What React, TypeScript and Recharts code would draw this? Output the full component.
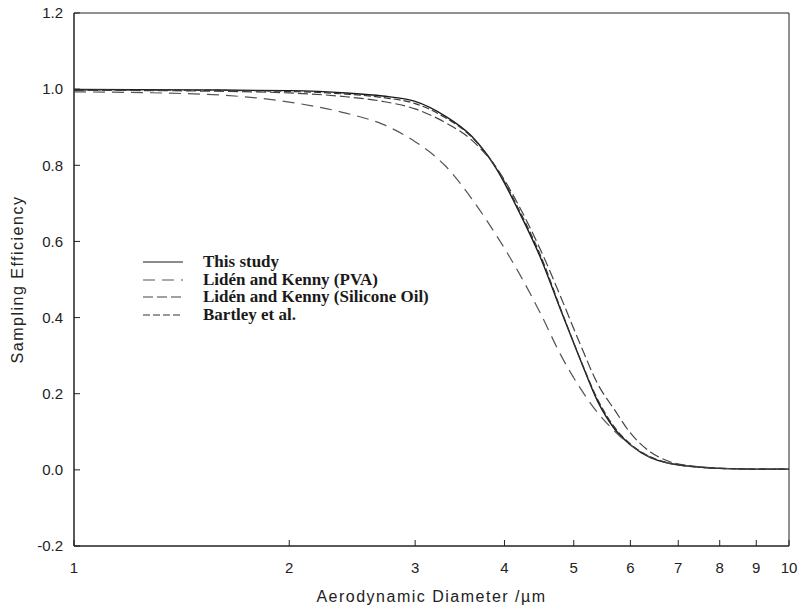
import React from "react";
import {
  LineChart,
  Line,
  XAxis,
  YAxis,
  Label,
  ReferenceArea,
} from "recharts";

// aerodynamic diameter (µm)
const diameters = [1, 1.5, 2, 2.4, 2.7, 3, 3.3, 3.6, 3.9, 4.2, 4.5, 4.8, 5.1, 5.4, 5.7, 6, 6.4, 6.8, 7.4, 8, 9, 10];

const thisStudy = [0.999, 0.998, 0.996, 0.99, 0.982, 0.968, 0.93, 0.876, 0.79, 0.675, 0.554, 0.417, 0.292, 0.18, 0.108, 0.066, 0.032, 0.017, 0.008, 0.004, 0.002, 0.002];
const lidenPva = [0.993, 0.987, 0.966, 0.937, 0.908, 0.862, 0.8, 0.712, 0.615, 0.514, 0.408, 0.3, 0.216, 0.15, 0.102, 0.065, 0.033, 0.017, 0.008, 0.004, 0.002, 0.002];
const lidenSilicone = [0.997, 0.995, 0.99, 0.98, 0.968, 0.948, 0.913, 0.866, 0.793, 0.69, 0.575, 0.452, 0.332, 0.226, 0.158, 0.097, 0.047, 0.022, 0.009, 0.004, 0.002, 0.002];
const bartley = [0.998, 0.997, 0.994, 0.987, 0.978, 0.962, 0.926, 0.874, 0.792, 0.68, 0.56, 0.42, 0.293, 0.185, 0.112, 0.068, 0.034, 0.018, 0.008, 0.004, 0.002, 0.002];

const xTicks = [1, 2, 3, 4, 5, 6, 7, 8, 9, 10];
const yTicks = [-0.2, 0, 0.2, 0.4, 0.6, 0.8, 1.0, 1.2];

const series = [
  { key: "study", name: "This study", dash: undefined, color: "#1a1a1a", width: 1.4 },
  { key: "pva", name: "Lidén and Kenny (PVA)", dash: "12 7", color: "#555", width: 1.2 },
  { key: "silicone", name: "Lidén and Kenny (Silicone Oil)", dash: "10 4", color: "#444", width: 1.2 },
  { key: "bartley", name: "Bartley et al.", dash: "7 3", color: "#333", width: 1.2 },
];

const data = diameters.map((d, i) => ({
  d,
  study: thisStudy[i],
  pva: lidenPva[i],
  silicone: lidenSilicone[i],
  bartley: bartley[i],
}));

const tickStyle = { fontFamily: "Liberation Sans, Arial, sans-serif", fontSize: 15, fill: "#222" };
const titleStyle = { fontFamily: "Liberation Sans, Arial, sans-serif", fontSize: 16, letterSpacing: 1.5, fill: "#222" };

// legend sits inside the plot, so draw it as an overlay instead of recharts' Legend
function LegendBox() {
  return (
    <div
      style={{
        position: "absolute",
        left: 142,
        top: 253,
        fontFamily: "Liberation Serif, Times New Roman, serif",
        fontWeight: "bold",
        fontSize: 17,
        color: "#1a1a1a",
      }}
    >
      {series.map((s) => (
        <div key={s.key} style={{ display: "flex", alignItems: "center", height: 17.7 }}>
          <svg width={42} height={10} style={{ marginRight: 19 }}>
            <line x1={1} y1={5} x2={41} y2={5} stroke={s.color} strokeWidth={1.2} strokeDasharray={s.dash} />
          </svg>
          <span>{s.name}</span>
        </div>
      ))}
    </div>
  );
}

export default function App() {
  return (
    <div style={{ position: "relative", width: 803, height: 611 }}>
      <style>{`body{margin:0;background:#fff}`}</style>
      <LineChart width={803} height={611} data={data} margin={{ top: 13, right: 14, left: 0, bottom: 0 }}>
        <XAxis
          dataKey="d"
          type="number"
          scale="log"
          domain={[1, 10]}
          ticks={xTicks}
          allowDataOverflow
          height={65}
          stroke="#222"
          tickSize={-6}
          tickMargin={22}
          tick={tickStyle}
        >
          <Label value="Aerodynamic Diameter /µm" position="insideBottom" offset={9} style={titleStyle} />
        </XAxis>
        <YAxis
          type="number"
          domain={[-0.2, 1.2]}
          ticks={yTicks}
          width={74}
          stroke="#222"
          tickSize={-6}
          tickMargin={17}
          tick={tickStyle}
          tickFormatter={(v: number) => v.toFixed(1)}
        >
          <Label value="Sampling Efficiency" angle={-90} position="insideLeft" offset={17} style={{ ...titleStyle, textAnchor: "middle" }} />
        </YAxis>
        <ReferenceArea x1={1} x2={10} y1={-0.2} y2={1.2} fill="none" stroke="#222" strokeWidth={1} ifOverflow="visible" />
        {series.map((s) => (
          <Line
            key={s.key}
            dataKey={s.key}
            name={s.name}
            type="monotone"
            stroke={s.color}
            strokeWidth={s.width}
            strokeDasharray={s.dash}
            dot={false}
            isAnimationActive={false}
          />
        ))}
      </LineChart>
      <LegendBox />
    </div>
  );
}
